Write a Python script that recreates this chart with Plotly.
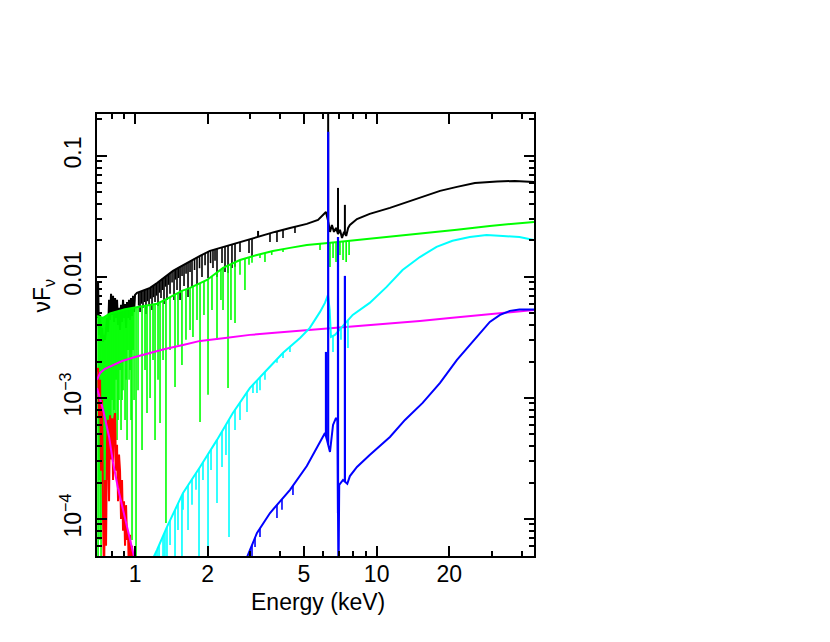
import numpy as np
import plotly.graph_objects as go

# ---------------- data (energy in keV, nuFnu) ----------------
# total model (black): noisy low-energy part followed by continuum
black_E = [0.6964, 0.7031, 0.7098, 0.7166, 0.7234, 0.7304, 0.7374, 0.7444, 0.7515, 0.7586,
           0.7660, 0.7733, 0.7807, 0.7881, 0.7957, 0.8033, 0.8110, 0.8187, 0.8266, 0.8345,
           0.8424, 0.8505, 0.8586, 0.8668, 0.8751, 0.8835, 0.8920, 0.9005, 0.9092, 0.9180,
           0.9267, 0.9354, 0.9445, 0.9535, 0.9627, 0.9718, 0.9811, 0.9905, 1.0,
           1.019, 1.10, 1.154, 1.233, 1.33, 1.436, 1.536, 1.689, 1.858, 2.042, 2.313, 2.719,
           3.197, 3.79, 4.38, 5.14, 5.72, 6.0, 6.17, 6.31, 6.41, 6.53, 6.66, 6.79, 6.92, 7.05,
           7.19, 7.33, 7.48, 7.62, 7.75, 8.29, 9.36, 11.35, 13.7, 15.5, 18.3, 21.5, 25.5,
           31.5, 37.3, 44.8]
black_F = [0.00458, 0.0091, 0.00332, 0.00485, 0.00313, 0.00379, 0.0029, 0.00332, 0.00302, 0.00365,
           0.00458, 0.00351, 0.00646, 0.00441, 0.00725, 0.00485, 0.00697, 0.00425, 0.0067, 0.00458,
           0.00646, 0.00401, 0.00555, 0.00365, 0.00588, 0.00425, 0.00646, 0.00458, 0.00598, 0.00379,
           0.00621, 0.00458, 0.00646, 0.00441, 0.0067, 0.00476, 0.00697, 0.00514, 0.0071,
           0.00738, 0.00781, 0.00811, 0.00891, 0.0100, 0.01122, 0.01211, 0.01355, 0.01492, 0.01641,
           0.0177, 0.01945, 0.02143, 0.02355, 0.02541, 0.02743, 0.02958, 0.0325, 0.03443, 0.0285,
           0.02355, 0.0269, 0.02355, 0.0254, 0.02265, 0.0245, 0.0210, 0.02355, 0.02183, 0.0254,
           0.0269, 0.0301, 0.0332, 0.0372, 0.0425, 0.0458, 0.0514, 0.0555, 0.0598, 0.0615,
           0.0621, 0.0610]
black_abs_E = [1.035, 1.049, 1.064, 1.079, 1.095, 1.110, 1.126, 1.143, 1.160, 1.176, 1.193,
               1.210, 1.228, 1.245, 1.263, 1.281, 1.300, 1.318, 1.337, 1.356, 1.376, 1.396,
               1.423, 1.450, 1.470, 1.492, 1.514, 1.536, 1.565, 1.595, 1.626, 1.657, 1.689,
               1.721, 1.763, 1.805, 1.849, 1.893, 1.949, 2.005, 2.054, 2.102, 2.143, 2.184,
               2.291, 2.357, 2.426, 2.519, 2.593, 2.719, 2.963, 3.049, 3.619, 3.868, 4.097, 4.592]
black_abs_F = [0.0058, 0.00514, 0.0060, 0.00555, 0.0062, 0.00495, 0.0063, 0.00588, 0.0066,
               0.00534, 0.0068, 0.00621, 0.0070, 0.00575, 0.0074, 0.0067, 0.0078, 0.00598,
               0.0083, 0.00646, 0.0086, 0.00725, 0.0090, 0.00646, 0.0095, 0.00781, 0.0098,
               0.00646, 0.0102, 0.00843, 0.0106, 0.00684, 0.0110, 0.00827, 0.0114, 0.00859,
               0.0118, 0.0100, 0.0125, 0.00982, 0.0130, 0.01186, 0.0136, 0.0100, 0.01305,
               0.01099, 0.01079, 0.01186, 0.01211, 0.0161, 0.01579, 0.01463, 0.01945, 0.01945,
               0.0210, 0.0231]
black_emis_E = [3.23, 6.30, 6.92, 7.39]
black_emis_F = [0.0240, 0.50, 0.0544, 0.0394]

# absorbed power law (green)
green_E = [0.696, 0.737, 0.788, 0.842, 0.909, 1.0, 1.10, 1.233, 1.33, 1.436, 1.563, 1.689,
           1.986, 2.313, 2.719, 3.197, 3.72, 4.38, 5.14, 6.29, 8.29, 11.35, 15.5, 21.5, 29.4, 44.8]
green_F = [0.00476, 0.00458, 0.0050, 0.0052, 0.0054, 0.0056, 0.0058, 0.0060, 0.00646, 0.00697,
           0.00766, 0.00811, 0.00944, 0.01186, 0.0138, 0.0152, 0.0164, 0.01738, 0.01838, 0.0191,
           0.0202, 0.02143, 0.0231, 0.0245, 0.0264, 0.0285]
green_abs_E = [0.7031, 0.7098, 0.7166, 0.7234, 0.7304, 0.7374, 0.7444, 0.7515, 0.7586, 0.7660,
               0.7733, 0.7807, 0.7881, 0.7957, 0.8033, 0.8110, 0.8187, 0.8266, 0.8345, 0.8424,
               0.8505, 0.8586, 0.8668, 0.8751, 0.8835, 0.8920, 0.9005, 0.9092, 0.9180, 0.9267,
               0.9354, 0.9445, 0.9535, 0.9627, 0.9718, 0.9811, 0.9905, 1.0096, 1.029, 1.069,
               1.10, 1.121, 1.154, 1.187, 1.210, 1.245, 1.269, 1.306, 1.343, 1.396, 1.464, 1.506,
               1.564, 1.625, 1.689, 1.737, 1.805, 1.858, 1.929, 2.005, 2.082, 2.184, 2.268, 2.313,
               2.426, 2.495, 2.593, 2.719, 2.851, 2.963, 3.049, 3.29, 3.45, 3.68, 4.097,
               5.83, 6.41, 6.60, 6.79, 7.05, 7.26, 7.48, 7.69]
green_abs_F = [3e-5, 2.1e-4, 6.7e-5, 3e-5, 2.54e-4, 9.8e-5, 1.44e-4, 8.1e-5, 3.07e-4, 2.1e-4,
               6.58e-4, 1.44e-4, 4.5e-4, 3.72e-4, 9.62e-4, 2.54e-4, 7.96e-4, 6.58e-4, 1.41e-3, 4.5e-4,
               6.58e-4, 9.62e-4, 1.70e-3, 5.44e-4, 9.62e-4, 1.16e-3, 2.06e-3, 6.58e-4, 1.41e-3, 4.5e-4,
               2.49e-3, 1.41e-3, 1.70e-3, 6.58e-4, 6.7e-5, 2.49e-3, 9.62e-4, 3e-5, 1.16e-3, 3.72e-4,
               1.70e-3, 7.51e-4, 1.0e-3, 2.06e-3, 4.5e-4, 1.41e-3, 6.21e-4, 2.06e-3, 9.27e-5, 2.49e-3,
               1.23e-3, 2.74e-3, 1.87e-3, 3.02e-3, 3.65e-3, 3.19e-3, 4.41e-3, 6.34e-4, 4.85e-3, 1.06e-3,
               5.34e-3, 3.02e-3, 6.46e-3, 5.34e-3, 1.21e-3, 4.41e-3, 4.17e-3, 1.04e-2, 7.81e-3, 1.26e-2,
               1.31e-2, 1.43e-2, 1.33e-2, 1.52e-2, 1.61e-2,
               1.67e-2, 1.21e-2, 1.43e-2, 1.33e-2, 1.52e-2, 1.38e-2, 1.33e-2, 1.52e-2]

# soft thermal component (red)
red_E = [0.6964, 0.7031, 0.7098, 0.7166, 0.7234, 0.7304, 0.7374, 0.7444, 0.7515, 0.7586,
         0.7660, 0.7733, 0.7807, 0.7881, 0.7957, 0.8033, 0.8110, 0.8187, 0.8266, 0.8345,
         0.8424, 0.8505, 0.8586, 0.8668, 0.8751, 0.8835, 0.8920, 0.9005, 0.9092, 0.9180,
         0.9267, 0.9354, 0.9445, 0.9535, 0.9627, 0.9718, 0.9811]
red_F = [0.00164, 0.00177, 0.00068, 0.00141, 0.00025, 0.00096, 0.0001, 0.00003, 0.00021, 0.00006,
         0.00045, 0.00066, 0.00014, 0.00072, 0.00031, 0.00068, 0.00021, 0.00066, 0.00075, 0.00025,
         0.00041, 0.00014, 0.00034, 0.00025, 0.0001, 0.00021, 0.00008, 0.00014, 0.00006, 0.00013,
         0.000067, 0.00008, 0.00003, 0.000074, 0.00003, 0.00006, 0.00003]

# scattered power law and steep soft component (magenta)
mag1_E = [0.696, 0.717, 0.751, 0.827, 0.884, 1.0, 1.154, 1.33, 1.58, 1.86, 2.36, 2.99, 3.79,
          4.82, 6.41, 8.53, 11.35, 15.1, 20.1, 26.7, 35.6, 44.8]
mag1_F = [0.00141, 0.00161, 0.00174, 0.00191, 0.00202, 0.00218, 0.00236, 0.00254, 0.00274,
          0.00296, 0.00313, 0.00332, 0.00345, 0.00358, 0.00379, 0.00394, 0.00409, 0.00433,
          0.00458, 0.00485, 0.00514, 0.00534]
mag2_E = [0.696, 0.738, 0.781, 0.81, 0.85, 0.90, 0.953, 0.99, 1.03]
mag2_F = [0.00121, 0.000796, 0.000476, 0.000296, 0.00018, 0.000108, 6.7e-5, 4.9e-5, 3.5e-5]

# reflection / absorbed component (cyan)
cyan_E = [1.154, 1.233, 1.356, 1.58, 1.858, 2.184, 2.54, 2.99, 3.51, 4.10, 4.82, 5.29, 5.83,
          6.11, 6.29, 6.39, 6.47, 6.72, 7.19, 7.96, 9.36, 11.0, 12.8, 15.1, 17.7, 20.6, 24.3,
          28.5, 33.3, 39.0, 44.8]
cyan_F = [4.2e-5, 5.54e-5, 8.59e-5, 1.64e-4, 2.69e-4, 4.50e-4, 7.51e-4, 1.21e-3, 1.70e-3,
          2.36e-3, 3.13e-3, 3.79e-3, 5.14e-3, 6.1e-3, 7.1e-3, 5.34e-3, 3.19e-3, 3.32e-3, 3.86e-3,
          4.85e-3, 6.1e-3, 8.27e-3, 1.14e-2, 1.46e-2, 1.77e-2, 1.99e-2, 2.14e-2, 2.22e-2, 2.18e-2,
          2.14e-2, 2.02e-2]
cyan_abs_E = [1.187, 1.210, 1.233, 1.257, 1.281, 1.306, 1.330, 1.356, 1.396, 1.464, 1.506, 1.564,
              1.58, 1.657, 1.721, 1.788, 1.840, 1.911, 2.005, 2.063, 2.184, 2.291, 2.379, 2.449,
              2.593, 2.719, 2.907, 3.077, 3.197, 3.290, 3.45, 3.868, 4.097, 4.378,
              6.597, 6.92, 7.118, 7.394, 7.608]
cyan_abs_F = [3e-5, 3e-5, 3e-5, 3e-5, 6.7e-5, 3e-5, 3e-5, 3e-5, 6.1e-5, 3e-5, 8.1e-5, 3e-5,
              1.19e-4, 8.1e-5, 1.31e-4, 1.74e-4, 3e-5, 2.10e-4, 3e-5, 2.54e-4, 1.355e-4, 2.69e-4,
              3.38e-4, 7.1e-5, 5.44e-4, 6.58e-4, 7.66e-4, 1.10e-3, 1.10e-3, 1.16e-3, 1.41e-3,
              1.95e-3, 2.14e-3, 2.40e-3,
              2.40e-3, 2.74e-3, 3.02e-3, 2.74e-3, 2.59e-3]

# heavily absorbed component with iron lines (blue)
blue_E = [2.852, 2.99, 3.197, 3.62, 4.38, 5.14, 6.11, 6.23, 6.41, 6.60, 6.79, 6.88, 6.95, 7.0,
          7.26, 7.56, 7.75, 8.29, 9.36, 11.35, 13.1, 15.5, 18.3, 21.5, 24.3, 26.7, 29.4, 32.4,
          35.6, 39.0, 44.8]
blue_F = [4.4e-5, 5.54e-5, 7.66e-5, 1.12e-4, 1.74e-4, 2.74e-4, 5.14e-4, 4.50e-4, 3.58e-4,
          5.98e-4, 6.84e-4, 6.5e-4, 3e-5, 1.91e-4, 2.10e-4, 1.95e-4, 2.26e-4, 2.69e-4, 3.38e-4,
          4.76e-4, 6.58e-4, 9.1e-4, 1.33e-3, 2.06e-3, 2.74e-3, 3.44e-3, 4.25e-3, 4.85e-3,
          5.24e-3, 5.39e-3, 5.39e-3]
blue_abs_E = [2.99, 3.049, 3.138, 3.29, 3.868, 4.057, 4.505]
blue_abs_F = [3e-5, 3e-5, 5.87e-5, 7.1e-5, 1.02e-4, 1.19e-4, 1.58e-4]
blue_emis_E = [6.17, 6.30, 6.92, 7.39]
blue_emis_F = [0.0024, 0.158, 0.0214, 0.0102]

# axis ticks
x_major = [1, 2, 5, 10, 20]
x_labels = ["1", "2", "5", "10", "20"]
x_minor = [0.7, 0.8, 0.9, 3, 4, 6, 7, 8, 9, 30, 40]
y_major = [1e-4, 1e-3, 1e-2, 1e-1]
y_labels = ["10<sup>\u22124</sup>", "10<sup>\u22123</sup>", "0.01", "0.1"]
y_minor = [6e-5, 7e-5, 8e-5, 9e-5, 2e-4, 3e-4, 4e-4, 5e-4, 6e-4, 7e-4, 8e-4, 9e-4,
           2e-3, 3e-3, 4e-3, 5e-3, 6e-3, 7e-3, 8e-3, 9e-3,
           0.02, 0.03, 0.04, 0.05, 0.06, 0.07, 0.08, 0.09, 0.2]


def spikes(cE, cF, lE, lF):
    lcE = np.log10(cE)
    lcF = np.log10(cF)
    xs, ys = [], []
    for e, f in zip(lE, lF):
        top = 10 ** np.interp(np.log10(e), lcE, lcF)
        xs += [e, e, None]
        ys += [top, f, None]
    return xs, ys


fig = go.Figure()
LW = 2.0
SW = 1.6


def add(x, y, color, width=LW):
    fig.add_trace(go.Scatter(x=x, y=y, mode="lines", line=dict(color=color, width=width),
                             hoverinfo="skip", showlegend=False))


# black
add(black_E, black_F, "#000000")
add(*spikes(black_E, black_F, black_abs_E, black_abs_F), "#000000", SW)
add(*spikes(black_E, black_F, black_emis_E, black_emis_F), "#000000", 2.0)
# green
add(green_E, green_F, "#00ff00")
add(*spikes(green_E, green_F, green_abs_E, green_abs_F), "#00ff00", SW)
# red
add(red_E, red_F, "#ff0000")
# magenta
add(mag1_E, mag1_F, "#ff00ff")
add(mag2_E, mag2_F, "#ff00ff")
# cyan
add(cyan_E, cyan_F, "#00ffff")
add(*spikes(cyan_E, cyan_F, cyan_abs_E, cyan_abs_F), "#00ffff", SW)
# blue
add(blue_E, blue_F, "#0000ff")
add(*spikes(blue_E, blue_F, blue_abs_E, blue_abs_F), "#0000ff", SW)
add(*spikes(blue_E, blue_F, blue_emis_E, blue_emis_F), "#0000ff", 2.2)

font = "Liberation Sans, Arial, Helvetica, sans-serif"
FS = 23
axis_common = dict(type="log", ticks="inside", ticklen=10, tickwidth=1.5, tickcolor="black",
                   showline=True, linecolor="black", linewidth=2, mirror="allticks",
                   showgrid=False, zeroline=False,
                   tickfont=dict(family=font, size=FS, color="black"))

fig.update_layout(
    width=830, height=642,
    margin=dict(l=89, r=304, t=106, b=94),
    paper_bgcolor="white", plot_bgcolor="white",
    showlegend=False,
    font=dict(family=font, size=FS, color="black"),
    xaxis=dict(range=[np.log10(0.696), np.log10(44.8)], tickmode="array", tickvals=x_major,
               ticktext=x_labels, ticklabelstandoff=-4,
               minor=dict(tickmode="array", tickvals=x_minor, ticks="inside", ticklen=5,
                          tickwidth=1.5, tickcolor="black", showgrid=False),
               **axis_common),
    yaxis=dict(range=[np.log10(4.94e-5), np.log10(0.222)], tickmode="array", tickvals=y_major,
               ticktext=y_labels, tickangle=-90, ticklabelstandoff=5,
               minor=dict(tickmode="array", tickvals=y_minor, ticks="inside", ticklen=5,
                          tickwidth=1.5, tickcolor="black", showgrid=False),
               **axis_common),
    annotations=[
        dict(text="Energy (keV)", xref="paper", yref="paper", x=0.5046, y=-0.104,
             xanchor="center", yanchor="middle", showarrow=False,
             font=dict(family=font, size=FS, color="black")),
        dict(text="\u03bdF<sub>\u03bd</sub>", xref="paper", yref="paper", x=-0.123, y=0.59,
             xanchor="center", yanchor="middle", showarrow=False, textangle=-90,
             font=dict(family=font, size=FS, color="black")),
    ],
)

fig.write_html("out.html")
